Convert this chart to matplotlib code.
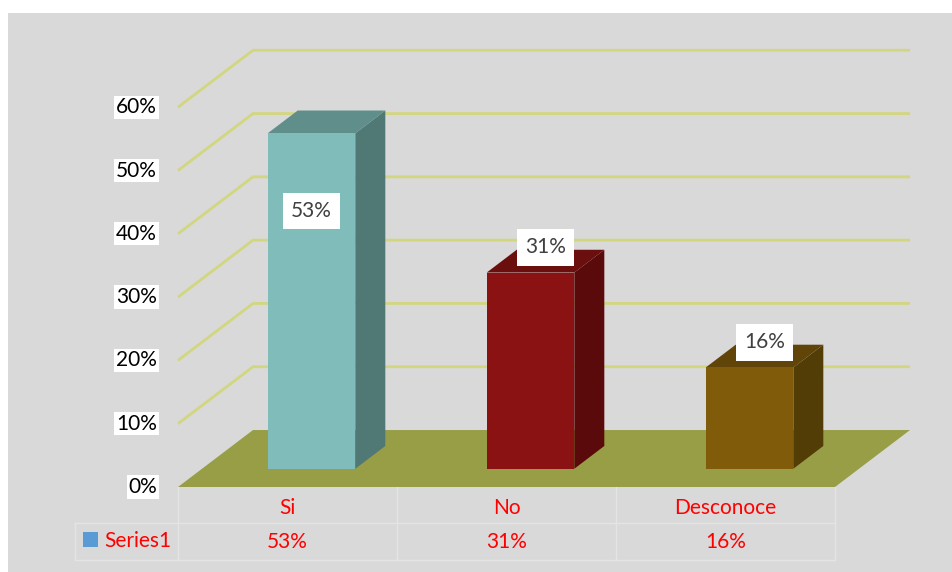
import matplotlib.pyplot as plt
from matplotlib.patches import Polygon, Rectangle, Patch

# datos de la encuesta
categorias = ['Si', 'No', 'Desconoce']
valores = [53, 31, 16]
marcas_y = [0, 10, 20, 30, 40, 50, 60]
serie = 'Series1'

# colores de cada barra: frente, tapa, lateral
colores = [
    ('#80BCB9', '#5F8E8B', '#507874'),
    ('#8A1212', '#6B0E0E', '#5A0A0A'),
    ('#7F5B0A', '#604408', '#523D07'),
]

plt.rcParams['font.family'] = 'Lato'

# falso 3d: desplazamiento de profundidad en unidades de categoria y de %
DX = 0.3425
DY = 9.0
f0 = 0.32      # donde empieza la barra dentro del piso
fb = 0.40      # grosor de la barra en profundidad
ancho = 0.40

fig = plt.figure(figsize=(9.52, 5.72), dpi=100)
ax = fig.add_axes([0, 0, 1, 1])
ax.set_xlim(-0.8128, 3.5342)
ax.set_ylim(-13.43, 76.94)
ax.axis('off')

# fondo gris
ax.add_patch(Rectangle((8 / 952, 0), 1, 1 - 13 / 572, transform=ax.transAxes,
                       facecolor='#D9D9D9', edgecolor='none', zorder=0))

n = len(categorias)

# lineas de cuadricula en la pared del fondo
for v in marcas_y[1:]:
    ax.plot([0, DX, n + DX], [v, v + DY, v + DY], color='#D2D67E', lw=2,
            solid_capstyle='butt', zorder=1)

# piso
ax.add_patch(Polygon([(0, 0), (n, 0), (n + DX, DY), (DX, DY)],
                     closed=True, facecolor='#989E46', edgecolor='none', zorder=2))

# etiquetas del eje y
for v in marcas_y:
    ax.text(-0.096, v, f'{v}%', ha='right', va='center', fontsize=15, color='black',
            bbox=dict(boxstyle='square,pad=0.08', facecolor='white', edgecolor='none'),
            zorder=5)

# barras
bdx, bdy = fb * DX, fb * DY
for i, (v, (c_frente, c_tapa, c_lado)) in enumerate(zip(valores, colores)):
    x0 = i + 0.5 - ancho / 2 + f0 * DX
    x1 = x0 + ancho
    y0 = f0 * DY
    y1 = y0 + v
    ax.add_patch(Polygon([(x1, y0), (x1 + bdx, y0 + bdy), (x1 + bdx, y1 + bdy), (x1, y1)],
                         closed=True, facecolor=c_lado, edgecolor='none', zorder=3))
    ax.add_patch(Polygon([(x0, y1), (x1, y1), (x1 + bdx, y1 + bdy), (x0 + bdx, y1 + bdy)],
                         closed=True, facecolor=c_tapa, edgecolor='none', zorder=3))
    ax.add_patch(Rectangle((x0, y0), ancho, v, facecolor=c_frente, edgecolor='none', zorder=4))

    # etiqueta de valor: la primera va dentro de la barra, las demas encima
    if i == 0:
        lx, ly = (x0 + x1) / 2, y1 - 12.3
    else:
        lx = (x0 + x1) / 2 + bdx / 2
        ly = y1 + bdy / 2 + 2.2
    ax.text(lx, ly, f'{v}%', ha='center', va='center', fontsize=15, color='#404040',
            bbox=dict(boxstyle='square,pad=0.4', facecolor='white', edgecolor='none'),
            zorder=6)

# tabla de datos debajo
y_fila = -5.69
y_fondo = -11.53
x_leyenda = -0.47
c_linea = '#E4E4E4'
ax.plot([x_leyenda, n], [y_fila, y_fila], color=c_linea, lw=1, zorder=1)
ax.plot([x_leyenda, n], [y_fondo, y_fondo], color=c_linea, lw=1, zorder=1)
ax.plot([x_leyenda, x_leyenda], [y_fila, y_fondo], color=c_linea, lw=1, zorder=1)
for k in range(n + 1):
    ax.plot([k, k], [0, y_fondo], color=c_linea, lw=1, zorder=1)

for i, (cat, v) in enumerate(zip(categorias, valores)):
    ax.text(i + 0.5, -3.32, cat, ha='center', va='center', fontsize=15, color='#FF0000')
    ax.text(i + 0.5, -8.69, f'{v}%', ha='center', va='center', fontsize=15, color='#FF0000')

ax.legend(handles=[Patch(facecolor='#5B9BD5', label=serie)],
          loc='center left', bbox_to_anchor=(83 / 952, 1 - 541 / 572),
          frameon=False, borderpad=0, borderaxespad=0, handlelength=0.7,
          handleheight=0.7, handletextpad=0.3, fontsize=15, labelcolor='#FF0000')

fig.savefig('out.png', dpi=100)
